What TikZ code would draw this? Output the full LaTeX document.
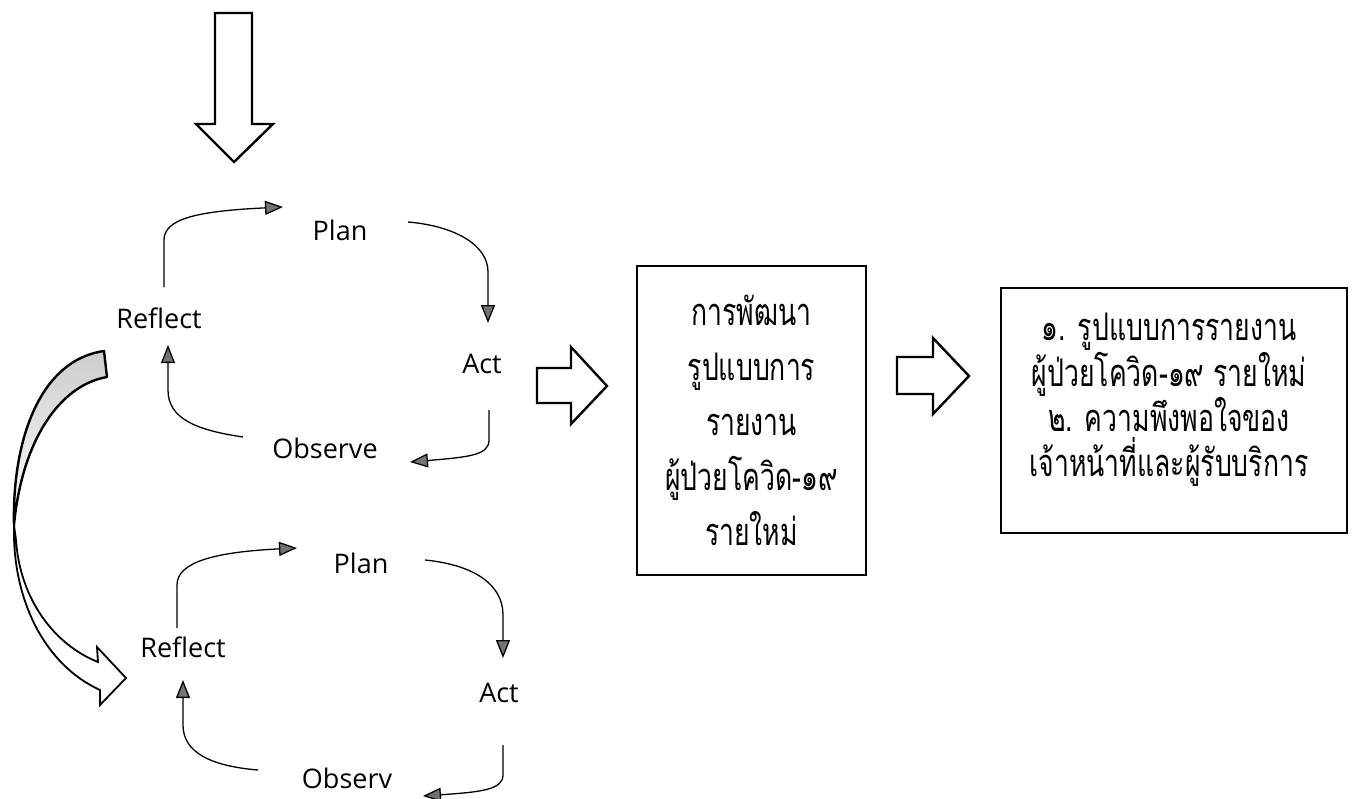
\documentclass[tikz,border=0pt]{standalone}
\usepackage{fontspec}
\setmainfont{Open Sans}
\newfontfamily\thaifont[Script=Thai,FakeStretch=0.7]{Loma}
\usetikzlibrary{arrows.meta,calc}
\begin{document}
\begin{tikzpicture}[x=1pt,y=-1pt,
  lbl/.style={font=\fontsize{27}{32}\selectfont, inner sep=0pt},
  cyc/.style={line width=1.3pt, -{Triangle[length=18pt,width=14pt,fill=black!55]}},
  blockarrow/.style={draw=black, line width=2.4pt, fill=white, line join=miter},
  boxstyle/.style={draw=black, line width=1.6pt},
  thaimid/.style={font=\thaifont\fontsize{38}{55}\selectfont, align=center},
  thairight/.style={font=\thaifont\fontsize{38}{45.3}\selectfont, align=center, inner sep=0pt}
]
\fill[white] (0,0) rectangle (1354,798);
\useasboundingbox (0,0) rectangle (1354,798);

% top block arrow
\draw[blockarrow] (215,13) -- (252,13) -- (252,124) -- (273,124) -- (234,162) -- (196,124) -- (215,124) -- cycle;

% labels, cycle 1
\node[lbl] (plan1) at (340,230) {Plan};
\node[lbl] (ref1) at (159,318) {Reflect};
\node[lbl] (act1) at (482,364) {Act};
\node[lbl] (obs1) at (325,448) {Observe};
% labels, cycle 2
\node[lbl] (plan2) at (361,563) {Plan};
\node[lbl] (ref2) at (183,647) {Reflect};
\node[lbl] (act2) at (499,693) {Act};
\node[lbl] (obs2) at (347,778) {Observ};

% connector ends, cycle 1
\coordinate (r1o) at ($(ref1)+(5,-31)$);
\coordinate (p1i) at ($(plan1)+(-57,-23)$);
\coordinate (p1o) at ($(plan1)+(68,-8)$);
\coordinate (a1i) at ($(act1)+(6,-41)$);
\coordinate (a1o) at ($(act1)+(7,46)$);
\coordinate (o1i) at ($(obs1)+(85,14)$);
\coordinate (o1o) at ($(obs1)+(-82,-11)$);
\coordinate (r1i) at ($(ref1)+(9,27)$);
% connector ends, cycle 2
\coordinate (r2o) at ($(ref2)+(-6,-19)$);
\coordinate (p2i) at ($(plan2)+(-64,-15)$);
\coordinate (p2o) at ($(plan2)+(64,-3)$);
\coordinate (a2i) at ($(act2)+(4,-35)$);
\coordinate (a2o) at ($(act2)+(4,52)$);
\coordinate (o2i) at ($(obs2)+(76,18)$);
\coordinate (o2o) at ($(obs2)+(-89,-8)$);
\coordinate (r2i) at ($(ref2)+(0,33)$);

% cycle 1 connectors
\draw[cyc] (r1o) -- (164,240) .. controls (164,218) and (200,211) .. (p1i);
\draw[cyc] (p1o) .. controls (455,226) and (488,245) .. (488,272) -- (a1i);
\draw[cyc] (a1o) -- (489,440) .. controls (489,455) and (470,457) .. (o1i);
\draw[cyc] (o1o) .. controls (195,430) and (168,418) .. (168,390) -- (r1i);
% cycle 2 connectors
\draw[cyc] (r2o) -- (177,585) .. controls (177,562) and (215,552) .. (p2i);
\draw[cyc] (p2o) .. controls (475,565) and (503,585) .. (503,615) -- (a2i);
\draw[cyc] (a2o) -- (503,775) .. controls (503,790) and (480,792) .. (o2i);
\draw[cyc] (o2o) .. controls (210,766) and (183,752) .. (183,725) -- (r2i);

% big curved arrow: back face (shaded) and front face
\shade[top color=gray!40, bottom color=white, draw=black, line width=2.4pt, line join=round]
  (104,351) -- (107,377) .. controls (60,385) and (22,440) .. (14,525)
  .. controls (12,440) and (40,360) .. (104,351) -- cycle;
\draw[fill=white, line width=1.8pt, line join=miter]
  (14,525) .. controls (12,600) and (45,665) .. (100,690)
  -- (100,705) -- (126,678) -- (97,647) -- (98,662)
  .. controls (55,645) and (20,600) .. (16,540) -- cycle;

% block arrows to the right
\draw[blockarrow] (537,368) -- (571,368) -- (571,347) -- (607,386) -- (571,424) -- (571,403) -- (537,403) -- cycle;
\draw[blockarrow] (897,357) -- (933,357) -- (933,338) -- (969,376) -- (933,414) -- (933,394) -- (897,394) -- cycle;

% middle box
\node[boxstyle, thaimid, minimum width=229, minimum height=309] (dev) at (751.5,420.5)
  {การพัฒนา\\รูปแบบการ\\รายงาน\\ผู้ป่วยโควิด-๑๙\\รายใหม่};

% result box
\node[boxstyle, line width=2pt, minimum width=346, minimum height=245] (res) at (1174,410.5) {};
\node[thairight] (restext) at (1169,400)
  {๑. รูปแบบการรายงาน\\ผู้ป่วยโควิด-๑๙ รายใหม่\\๒. ความพึงพอใจของ\\เจ้าหน้าที่และผู้รับบริการ};
\end{tikzpicture}
\end{document}
